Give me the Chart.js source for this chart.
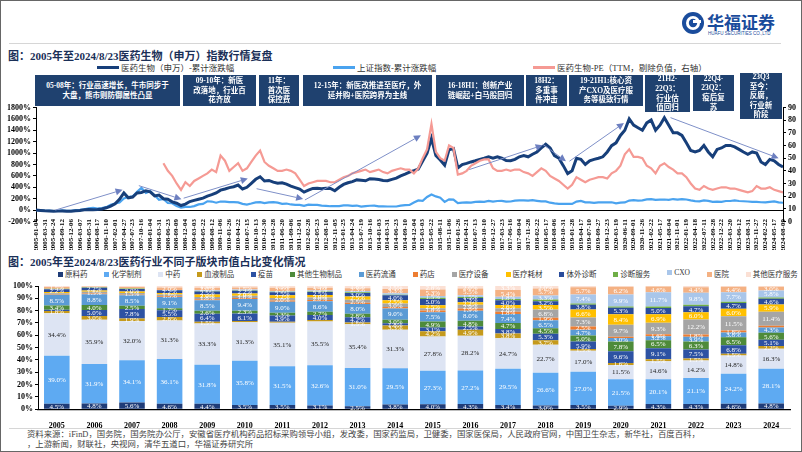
<!DOCTYPE html>
<html>
<head>
<meta charset="utf-8">
<script src="https://cdn.jsdelivr.net/npm/chart.js@4.4.1/dist/chart.umd.min.js"></script>
<style>
  body { margin: 0; background: #fff; }
  #page { position: relative; width: 802px; height: 452px; overflow: hidden; background: #fff;
          font-family: "Liberation Serif", "Noto Sans CJK SC", serif; }
  #frame { position: absolute; left: 0; top: 0; width: 800px; height: 450px; border: 1px solid #666; pointer-events: none; z-index: 9; }
  .abs { position: absolute; white-space: nowrap; }
  .title { font-size: 11px; font-weight: bold; color: #1a2f57; }
  .lg { font-size: 8.5px; color: #333; }
  .lgline { position: absolute; height: 3px; }
  .box { position: absolute; background: #1f416f; color: #fff; font-size: 7.5px; font-weight: bold;
         line-height: 9.6px; text-align: center; display: flex; align-items: center; justify-content: center; z-index: 5; }
  canvas { position: absolute; left: 0; }
  #legend2 { position: absolute; left: 58px; top: 268px; width: 740px; display: flex; justify-content: space-between;
             font-size: 7.5px; color: #333; }
  #legend2 span i { display: inline-block; width: 5px; height: 5px; margin-right: 2px; vertical-align: 0px; }
  .foot { font-size: 8.4px; line-height: 10px; color: #444; }
</style>
</head>
<body>
<div id="page">
  <div id="frame"></div>

  <!-- logo -->
  <svg class="abs" style="left:681px;top:11px" width="24" height="24" viewBox="0 0 24 24">
    <circle cx="12" cy="12" r="11" fill="#1a4c9c"/>
    <circle cx="12" cy="12" r="7" fill="#fff"/>
    <circle cx="12" cy="12" r="4.2" fill="#1a4c9c"/>
    <rect x="12" y="9" width="8" height="3" fill="#fff"/>
  </svg>
  <div class="abs" style="left:707px;top:9px;font-size:17px;font-weight:bold;color:#1a4c9c;font-family:'Noto Sans CJK SC';">华福证券</div>
  <div class="abs" style="left:708px;top:31px;font-size:4.5px;color:#1a4c9c;font-family:'Liberation Sans';">HUAFU SECURITIES CO.,LTD</div>
  <div class="abs" style="left:9px;top:43px;width:772px;height:1px;background:#d6d6d6;"></div>

  <div class="abs title" style="left:8px;top:47px;">图：2005年至2024/8/23医药生物（申万）指数行情复盘</div>

  <!-- top legend -->
  <div class="lgline" style="left:97px;top:66px;width:22px;background:#173f7a;"></div>
  <div class="abs lg" style="left:121px;top:61px;">医药生物（申万）-累计涨跌幅</div>
  <div class="lgline" style="left:333px;top:66px;width:22px;background:#4aa3ef;"></div>
  <div class="abs lg" style="left:357px;top:61px;">上证指数-累计涨跌幅</div>
  <div class="lgline" style="left:533px;top:66px;width:22px;background:#f59a94;"></div>
  <div class="abs lg" style="left:557px;top:61px;">医药生物-PE（TTM，剔除负值，右轴）</div>

  <canvas id="topChart" width="802" height="150" style="top:100px;"></canvas>

  <!-- stage annotations -->
  <div class="box" style="left:35px;top:75px;width:145px;height:31px;">05-08年：行业高速增长，牛市同步于<br>大盘，熊市则防御属性凸显</div>
  <div class="box" style="left:183px;top:75px;width:73px;height:31px;">09-10年：新医<br>改落地，行业百<br>花齐放</div>
  <div class="box" style="left:259px;top:75px;width:40px;height:31px;">11年：<br>首次医<br>保控费</div>
  <div class="box" style="left:303px;top:75px;width:129px;height:31px;">12-15年：新医改推进至医疗，外<br>延并购+医院跨界为主线</div>
  <div class="box" style="left:436px;top:75px;width:88px;height:31px;">16-18H1：创新产业<br>链崛起+白马股回归</div>
  <div class="box" style="left:526px;top:75px;width:41px;height:31px;">18H2：<br>多重事<br>件冲击</div>
  <div class="box" style="left:569px;top:75px;width:74px;height:31px;">19-21H1:核心资<br>产CXO及医疗服<br>务等极致行情</div>
  <div class="box" style="left:645px;top:75px;width:45px;height:37px;">21H2-<br>22Q3：<br>行业估<br>值回归</div>
  <div class="box" style="left:693px;top:75px;width:41px;height:36px;">22Q4-<br>23Q2：<br>疫后复<br>苏</div>
  <div class="box" style="left:740px;top:73px;width:42px;height:46px;">23Q3<br>至今：<br>反腐，<br>行业新<br>阶段</div>

  <div class="abs title" style="left:8px;top:253px;">图：2005年至2024/8/23医药行业不同子版块市值占比变化情况</div>
  <div id="legend2"></div>

  <canvas id="barChart" width="802" height="150" style="top:278px;"></canvas>

  <div class="abs" style="left:9px;top:428px;width:782px;height:1px;background:#d6d6d6;"></div>
  <div class="abs foot" style="left:27px;top:430px;">资料来源：iFinD，国务院，国务院办公厅，安徽省医疗机构药品招标采购领导小组，发改委，国家药监局，卫健委，国家医保局，人民政府官网，中国卫生杂志，新华社，百度百科，</div>
  <div class="abs foot" style="left:27px;top:440px;">，上游新闻，财联社，央视网，清华五道口，华福证券研究所</div>
</div>

<script>
// ---- top chart: x tick labels (one every ~57 trading days) ----
const dateLabels = ['2005-01-04','2005-03-31','2005-06-24','2005-09-12','2005-12-06','2006-03-07','2006-05-31','2006-08-17','2006-11-10',
  '2007-02-01','2007-04-27','2007-07-23','2007-10-16','2008-01-04','2008-03-31','2008-06-23','2008-09-09','2008-12-04',
  '2009-03-03','2009-05-22','2009-08-12','2009-11-06','2010-01-26','2010-04-22','2010-07-15','2010-10-13','2010-12-30',
  '2011-03-28','2011-06-20','2011-09-06','2011-12-01','2012-02-28','2012-05-23','2012-08-10','2012-11-05','2013-01-25',
  '2013-04-24','2013-07-19','2013-10-16','2014-01-03','2014-03-31','2014-06-23','2014-09-10','2014-12-04','2015-03-03',
  '2015-05-22','2015-08-11','2015-11-06','2016-01-26','2016-04-21','2016-07-13','2016-10-10','2016-12-27','2017-03-23',
  '2017-06-16','2017-09-04','2017-11-28','2018-02-22','2018-05-17','2018-08-06','2018-10-31','2019-01-28','2019-04-17',
  '2019-07-10','2019-09-27','2019-12-23','2020-03-19','2020-06-11','2020-09-01','2020-11-26','2021-02-22','2021-05-17',
  '2021-08-04','2021-11-01','2022-01-19','2022-04-18','2022-07-11','2022-09-28','2022-12-22','2023-03-20','2023-06-12',
  '2023-08-31','2023-11-27','2024-02-22','2024-05-17','2024-08-09'];

// values sampled every half tick-interval (%)
const swCum = [
  0, -5, -12, -15, -22, -18, -15, -22, -20, -12,
  -8, 5, 10, 8, 12, 20, 40, 70, 110, 190,
  300, 215, 230, 300, 310, 340, 320, 250, 265, 200,
  190, 145, 120, 80, 105, 150, 170, 190, 210, 245,
  270, 300, 350, 370, 395, 410, 440, 370, 400, 470,
  540, 585, 510, 520, 490, 470, 480, 455, 420, 395,
  370, 315, 350, 380, 385, 375, 385, 380, 340, 400,
  450, 480, 500, 530, 525, 515, 550, 545, 535, 520,
  515, 540, 560, 600, 630, 665, 690, 720, 860, 1000,
  1260, 960, 880, 790, 1060, 1080, 740, 800, 820, 845,
  865, 890, 910, 935, 910, 935, 910, 870, 865, 890,
  935, 955, 935, 980, 1020, 1090, 1155, 1090, 955, 910,
  780, 640, 690, 910, 890, 800, 865, 890, 910, 935,
  1020, 1130, 1180, 1310, 1400, 1600, 1490, 1445, 1400, 1530,
  1580, 1400, 1490, 1620, 1490, 1355, 1355, 1310, 1180, 1045,
  1020, 1045, 1135, 1020, 935, 1065, 1090, 1135, 1135, 1110,
  1065, 1020, 980, 1020, 1000, 845, 800, 890, 865, 800,
  755];

const shCum = [
  0, -5, -14, -10, -16, -12, -6, -12, -12, 0,
  4, 15, 33, 40, 27, 35, 52, 95, 115, 135,
  205, 230, 240, 320, 390, 300, 330, 260, 180, 195,
  125, 120, 70, 45, 58, 55, 70, 100, 110, 155,
  150, 130, 150, 150, 140, 140, 135, 110, 97, 115,
  135, 140, 122, 135, 139, 130, 111, 115, 99, 92,
  92, 75, 97, 92, 91, 80, 75, 68, 69, 71,
  84, 83, 75, 80, 60, 70, 76, 78, 67, 66,
  63, 63, 63, 78, 87, 90, 133, 170, 162, 230,
  274, 240, 216, 145, 189, 185, 121, 130, 137, 132,
  145, 148, 145, 160, 150, 160, 161, 150, 151, 165,
  172, 172, 167, 175, 163, 152, 153, 130, 117, 110,
  109, 110, 109, 150, 162, 135, 135, 127, 136, 137,
  138, 137, 117, 130, 135, 167, 174, 167, 171, 187,
  193, 178, 183, 186, 180, 194, 185, 194, 186, 170,
  157, 152, 169, 162, 145, 147, 145, 160, 160, 170,
  160, 155, 151, 144, 145, 138, 137, 145, 153, 135,
  129];

// PE (TTM), starts mid-2008 (tick index 14.5)
const peStart = 14.5;
const peTTM = [
  46,
  40, 36, 30, 25, 31, 28, 32, 34, 36, 38,
  41, 39, 52, 48, 40, 43, 46, 40, 42, 47,
  52, 56, 47, 44, 42, 40, 40, 41, 40, 38,
  33, 28, 30, 31, 32, 32, 32, 31, 31, 33,
  35, 36, 38, 39, 40, 41, 39, 40, 41, 39,
  38, 40, 41, 42, 41, 41, 38, 42, 50, 57,
  77, 55, 50, 48, 60, 58, 37, 38, 40, 44,
  46, 48, 49, 49, 42, 40, 40, 41, 40, 41,
  41, 39, 38, 36, 39, 42, 40, 36, 34, 32,
  29, 26, 29, 35, 33, 31, 33, 34, 35, 35,
  34, 38, 40, 44, 53, 57, 51, 51, 50, 44,
  42, 38, 44, 46, 43, 41, 38, 38, 35, 30,
  26, 25, 28, 26, 25, 26, 27, 27, 26, 26,
  25, 24, 23, 24, 28, 26, 26, 27, 25, 24,
  23];

// trend arrows, [tick index, right-axis value]
const arrowFrom = [[2.2, 9], [11.7, 28.3], [16.8, 18.4], [25.1, 25.9], [30.6, 17], [49.3, 41], [57.65, 61], [60.7, 47.6], [72.2, 82]];
const arrowTo   = [[9.85, 25], [16.55, 17.6], [24.1, 33.9], [30.4, 17.8], [43.8, 68], [57.65, 60.2], [60.3, 47.6], [66.9, 77.7], [84.5, 50]];

// ---- bottom chart ----
const years = ['2005','2006','2007','2008','2009','2010','2011','2012','2013','2014','2015','2016','2017','2018','2019','2020','2021','2022','2023','2024'];
const segNames = ['原料药','化学制剂','中药','血液制品','疫苗','其他生物制品','医药流通','药店','医疗设备','医疗耗材','体外诊断','诊断服务','CXO','医院','其他医疗服务'];
const apiShare    = [4.5,4.8,5.6,4.6,4.4,3.5,3.5,3.1,2.5,3.8,4.0,4.3,3.4,3.0,3.5,2.9,4.3,4.3,4.6,4.8];
const chemShare   = [39.0,31.9,34.1,36.1,31.8,35.8,31.5,32.6,31.0,29.5,27.3,27.2,29.5,26.6,27.0,21.5,20.1,21.1,24.2,28.1];
const tcmShare    = [34.4,35.9,32.0,31.3,33.3,31.3,35.1,35.5,35.4,31.3,27.8,28.2,24.7,22.7,17.0,11.5,14.6,14.2,14.8,16.3];
const bloodShare  = [1.8,3.0,1.9,2.8,1.5,1.0,1.0,1.2,1.5,3.3,4.2,4.9,3.8,3.7,1.5,1.6,1.5,1.5,1.5,2.2];
const vaccShare   = [1.0,5.0,7.8,5.5,6.4,6.1,4.9,4.0,4.2,1.8,3.1,2.5,3.8,5.3,5.9,9.6,9.1,7.5,6.8,5.1];
const bioShare    = [3.4,4.0,2.5,1.7,2.6,2.3,2.3,2.7,2.8,3.0,4.9,4.8,4.7,4.5,5.0,7.8,6.5,6.3,6.5,5.6];
const distShare   = [8.5,8.8,8.5,9.1,8.5,9.4,9.0,8.6,8.0,9.0,7.5,8.0,7.4,6.5,4.7,3.0,3.2,3.9,3.8,4.3];
const pharmShare  = [0.4,0.5,0.5,0.5,0.8,0.8,0.9,0.9,1.0,1.2,1.3,1.9,1.8,1.9,2.5,1.0,1.6,1.8,1.8,1.3];
const equipShare  = [1.2,1.5,1.5,1.5,1.8,1.8,2.0,2.0,2.5,3.0,1.8,2.9,2.8,6.8,7.3,9.7,9.3,12.2,11.5,11.4];
const consShare   = [1.0,1.0,1.2,1.2,2.0,2.0,2.2,2.0,2.5,2.5,2.5,2.2,2.6,3.5,6.6,8.4,6.9,6.0,6.0,5.9];
const ivdShare    = [2.2,2.2,2.0,2.2,2.5,2.2,2.5,2.5,3.0,4.0,5.0,3.3,4.0,3.2,3.8,5.3,5.0,4.7,4.7,4.6];
const diagShare   = [0.3,0.3,0.3,0.3,0.4,0.4,0.4,0.4,0.5,0.6,1.0,0.8,1.0,1.3,1.0,1.0,1.2,1.3,1.0,1.0];
const cxoShare    = [0.0,0.0,0.0,0.0,0.5,0.6,0.7,0.8,1.0,1.2,1.5,1.5,1.8,3.3,7.4,9.9,11.7,9.8,7.7,5.8];
const hospShare   = [1.5,0.6,1.3,2.0,2.0,1.5,2.5,2.2,2.3,3.3,5.3,5.5,5.4,5.7,5.7,6.2,4.6,4.4,4.4,3.0];
const otherShare  = [0.8,0.5,0.8,1.2,1.5,1.3,1.5,1.5,1.8,2.5,2.8,2.0,3.3,2.0,1.1,0.6,0.4,1.0,0.7,0.6];

const segValues = [apiShare, chemShare, tcmShare, bloodShare, vaccShare, bioShare, distShare, pharmShare,
                   equipShare, consShare, ivdShare, diagShare, cxoShare, hospShare, otherShare];
const segColors = ['#1f3c78','#5eaaf2','#dde4f3','#c59a1c','#2d52a3','#4e8b3a','#5b9bd5','#ed7d31',
                   '#a5a5a5','#ffc000','#2a4c9b','#6fae46','#a9c6ea','#f4b183','#fbe0d4'];

// bottom legend
const lg2 = document.getElementById('legend2');
segNames.forEach((n, k) => {
  const s = document.createElement('span');
  s.innerHTML = '<i style="background:' + segColors[k] + '"></i>' + n;
  lg2.appendChild(s);
});

const serif = 'Liberation Serif';

// arrows between turning points
const arrowPlugin = {
  id: 'arrows',
  afterDatasetsDraw(chart) {
    const { ctx } = chart;
    const x = chart.scales.x, y1 = chart.scales.y1;
    ctx.save();
    ctx.strokeStyle = '#7f90c8';
    ctx.fillStyle = '#6c7fc0';
    ctx.lineWidth = 1;
    arrowFrom.forEach((f, k) => {
      const t = arrowTo[k];
      const x0 = x.getPixelForValue(f[0]), y0 = y1.getPixelForValue(f[1]);
      const xe = x.getPixelForValue(t[0]), ye = y1.getPixelForValue(t[1]);
      const a = Math.atan2(ye - y0, xe - x0);
      const L = 7, W = 3.5;
      const bx = xe - L * Math.cos(a), by = ye - L * Math.sin(a);
      ctx.beginPath(); ctx.moveTo(x0, y0); ctx.lineTo(bx, by); ctx.stroke();
      ctx.beginPath();
      ctx.moveTo(xe, ye);
      ctx.lineTo(bx + W * Math.sin(a), by - W * Math.cos(a));
      ctx.lineTo(bx - W * Math.sin(a), by + W * Math.cos(a));
      ctx.closePath(); ctx.fill();
    });
    ctx.restore();
  }
};

const toPts = (arr, start) => arr.map((v, k) => ({ x: start + k / 2, y: v }));

new Chart(document.getElementById('topChart'), {
  type: 'line',
  data: {
    datasets: [
      { label: '医药生物-PE（TTM，剔除负值，右轴）', data: toPts(peTTM, peStart), yAxisID: 'y1',
        borderColor: '#f59a94', borderWidth: 2.2, order: 1 },
      { label: '医药生物（申万）-累计涨跌幅', data: toPts(swCum, 0), yAxisID: 'y',
        borderColor: '#173f7a', borderWidth: 3, order: 2 },
      { label: '上证指数-累计涨跌幅', data: toPts(shCum, 0), yAxisID: 'y',
        borderColor: '#4aa3ef', borderWidth: 2.2, order: 3 }
    ]
  },
  options: {
    responsive: false, animation: false, devicePixelRatio: 1,
    layout: { padding: { top: 7.5, bottom: 28.5, left: 0, right: 0 } },
    elements: { point: { radius: 0 }, line: { tension: 0 } },
    plugins: { legend: { display: false }, tooltip: { enabled: false } },
    scales: {
      x: {
        type: 'linear', min: 0, max: dateLabels.length - 1, position: { y: 0 },
        afterBuildTicks: s => { s.ticks = dateLabels.map((d, i) => ({ value: i })); },
        afterFit: s => { s.height = 2; },
        grid: { display: false },
        border: { display: true, color: '#000', width: 1 },
        ticks: { autoSkip: false, maxRotation: 90, minRotation: 90, padding: 1, color: '#000',
                 font: { family: serif, size: 7, weight: 'bold' }, callback: v => dateLabels[v] }
      },
      y: {
        position: 'left', min: -200, max: 1800,
        afterFit: s => { s.width = 36; },
        grid: { drawOnChartArea: false, drawTicks: true, tickLength: 3, color: '#000' },
        border: { display: true, color: '#000' },
        ticks: { stepSize: 200, autoSkip: false, padding: 2, color: '#000', font: { family: serif, size: 8, weight: 'bold' },
                 callback: v => v + '%' }
      },
      y1: {
        position: 'right', min: 0, max: 90,
        afterFit: s => { s.width = 19; },
        grid: { drawOnChartArea: false, drawTicks: true, tickLength: 3, color: '#000' },
        border: { display: true, color: '#000' },
        ticks: { stepSize: 10, autoSkip: false, padding: 2, color: '#000', font: { family: serif, size: 8, weight: 'bold' } }
      }
    }
  },
  plugins: [arrowPlugin]
});

// percentage labels inside bar segments
const segLabels = {
  id: 'segLabels',
  afterDatasetsDraw(chart) {
    const ctx = chart.ctx;
    ctx.save();
    ctx.font = '7px "' + serif + '"';
    ctx.textAlign = 'center';
    ctx.textBaseline = 'middle';
    chart.data.datasets.forEach((ds, di) => {
      chart.getDatasetMeta(di).data.forEach((bar, j) => {
        const v = ds.data[j];
        if (v < 1.5) return;
        ctx.fillStyle = di === 2 ? '#222' : '#fff';
        ctx.fillText(v.toFixed(1) + '%', bar.x, (bar.y + bar.base) / 2 + 0.5);
      });
    });
    ctx.restore();
  }
};

new Chart(document.getElementById('barChart'), {
  type: 'bar',
  data: {
    labels: years,
    datasets: segNames.map((n, k) => ({
      label: n, data: segValues[k], backgroundColor: segColors[k],
      barPercentage: 0.68, categoryPercentage: 1.0
    }))
  },
  options: {
    responsive: false, animation: false, devicePixelRatio: 1,
    layout: { padding: { top: 8, right: 12, bottom: 0, left: 0 } },
    plugins: { legend: { display: false }, tooltip: { enabled: false } },
    scales: {
      x: {
        stacked: true,
        afterFit: s => { s.height = 18.7; },
        grid: { display: false },
        border: { display: true, color: '#000', width: 1.2 },
        ticks: { padding: 4, color: '#000', font: { family: serif, size: 8, weight: 'bold' } }
      },
      y: {
        stacked: true, min: 0, max: 100,
        afterFit: s => { s.width = 38; },
        grid: { drawOnChartArea: false, drawTicks: true, tickLength: 3, color: '#000' },
        border: { display: true, color: '#000' },
        ticks: { stepSize: 10, autoSkip: false, padding: 2, color: '#000', font: { family: serif, size: 8, weight: 'bold' },
                 callback: v => v + '%' }
      }
    }
  },
  plugins: [segLabels]
});
</script>
</body>
</html>
